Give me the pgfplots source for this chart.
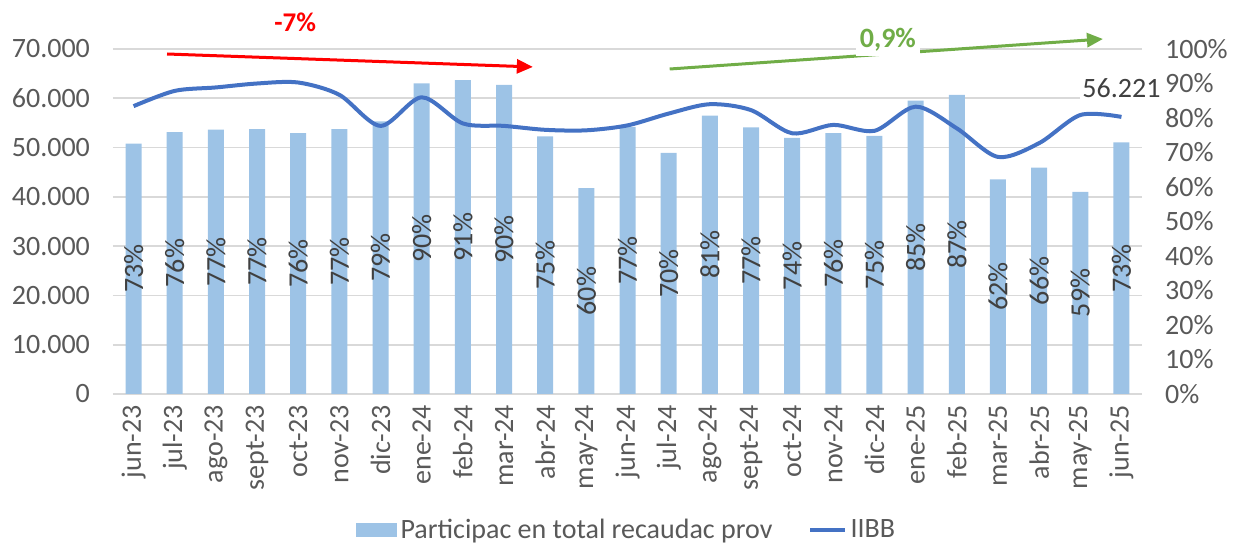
\documentclass[border=0pt]{standalone}
\usepackage{pgfplots}
\pgfplotsset{compat=1.18}
\usepackage{fontspec}
\setmainfont{Carlito}
\usetikzlibrary{arrows.meta}

\definecolor{barcol}{HTML}{9DC3E6}
\definecolor{linecol}{HTML}{4472C4}
\definecolor{gridcol}{HTML}{D9D9D9}
\definecolor{txtcol}{HTML}{595959}
\definecolor{lblcol}{HTML}{404040}
\definecolor{arrgreen}{HTML}{70AD47}

\newcommand{\fs}{\fontsize{14}{17}\selectfont}

\begin{document}
\begin{tikzpicture}
\pgfplotsset{
  base/.style={
    width=514.5pt, height=172.5pt, scale only axis,
    xmin=-0.5, xmax=24.5, clip=false,
    tick style={draw=none},
    tick label style={font=\fs, text=txtcol},
    /pgf/number format/assume math mode=true,
    scaled y ticks=false,
  }
}

% participacion (eje derecho, barras)
\begin{axis}[base,
    axis x line*=bottom, axis y line*=right,
    x axis line style={draw=gridcol, line width=0.8pt},
    y axis line style={draw=none},
    ymin=0, ymax=100,
    ytick={0,10,...,100},
    yticklabel={\pgfmathprintnumber{\tick}\%},
    yticklabel style={xshift=8pt},
    xtick={0,...,24},
    xticklabels={jun-23,jul-23,ago-23,sept-23,oct-23,nov-23,dic-23,ene-24,feb-24,mar-24,abr-24,may-24,jun-24,jul-24,ago-24,sept-24,oct-24,nov-24,dic-24,ene-25,feb-25,mar-25,abr-25,may-25,jun-25},
    xticklabel style={rotate=90, anchor=east, xshift=-2pt},
    extra y ticks={14.2857,28.5714,42.8571,57.1429,71.4286,85.7143,100},
    extra y tick labels={},
    extra y tick style={grid=major, major grid style={draw=gridcol, line width=0.8pt}},
]
\addplot[ybar, bar width=8pt, fill=barcol, draw=none,
    visualization depends on=y \as \rawy,
    nodes near coords={\pgfmathprintnumber[fixed,precision=0]{\pgfplotspointmeta}\%},
    every node near coord/.append style={shift={(axis direction cs:0,-\rawy/2)}, rotate=90, anchor=center, font=\fs, text=lblcol},
] coordinates {
    (0,72.6) (1,75.9) (2,76.6) (3,76.8) (4,75.6) (5,76.8) (6,79.0) (7,90.0)
    (8,91.0) (9,89.6) (10,74.7) (11,59.7) (12,77.4) (13,69.9) (14,80.7) (15,77.3)
    (16,74.2) (17,75.6) (18,74.8) (19,85.0) (20,86.7) (21,62.2) (22,65.6) (23,58.6)
    (24,72.9)
};
\end{axis}

% IIBB (eje izquierdo, linea)
\begin{axis}[base,
    hide x axis,
    axis y line*=left,
    y axis line style={draw=none},
    ymin=0, ymax=70000,
    ytick={0,10000,...,70000},
    yticklabel style={xshift=-8pt, /pgf/number format/1000 sep={.}},
    legend style={at={(0.5,-0.394)}, anchor=center, draw=none, font=\fs, text=txtcol,
        legend columns=2, /tikz/every even column/.append style={column sep=16pt}},
    legend cell align=left,
]
\addlegendimage{legend image code/.code={\fill[barcol] (0cm,-0.12cm) rectangle (0.7cm,0.12cm);}}
\addlegendentry{Participac en total recaudac prov}
\addplot[linecol, line width=2pt, smooth, no markers] coordinates {
    (0,58400) (1,61500) (2,62200) (3,63000) (4,63200) (5,60700) (6,54400) (7,60200)
    (8,54900) (9,54400) (10,53600) (11,53500) (12,54500) (13,56900) (14,58800) (15,57600)
    (16,52900) (17,54600) (18,53400) (19,58300) (20,53900) (21,48100) (22,50900) (23,56600)
    (24,56221)
};
\addlegendentry{IIBB}
\addplot[draw=none, no markers, forget plot, point meta=explicit symbolic,
    nodes near coords,
    every node near coord/.append style={anchor=center, yshift=14.5pt, font=\fs, text=lblcol, fill=white, inner sep=1pt},
] coordinates {(24,56221) [56.221]};

\draw[red, line width=1.5pt, -{Triangle[length=8pt,width=7pt]}]
    (rel axis cs:0.0525,0.9855) -- (rel axis cs:0.408,0.948);
\node[text=red, font=\fontsize{13.5}{16}\selectfont\bfseries] at (rel axis cs:0.177,1.078) {-7\%};
\draw[arrgreen, line width=1.5pt, -{Triangle[length=8pt,width=7pt]}]
    (rel axis cs:0.541,0.942) -- (rel axis cs:0.962,1.029);
\node[text=arrgreen, fill=white, inner sep=2pt, font=\fontsize{14}{16}\selectfont\bfseries] at (rel axis cs:0.753,1.026) {0,9\%};

\coordinate (BL) at (rel axis cs:-0.1098,-0.438);
\coordinate (TR) at (rel axis cs:1.0884,1.142);
\end{axis}
\pgfresetboundingbox
\useasboundingbox (BL) rectangle (TR);
\end{tikzpicture}
\end{document}
